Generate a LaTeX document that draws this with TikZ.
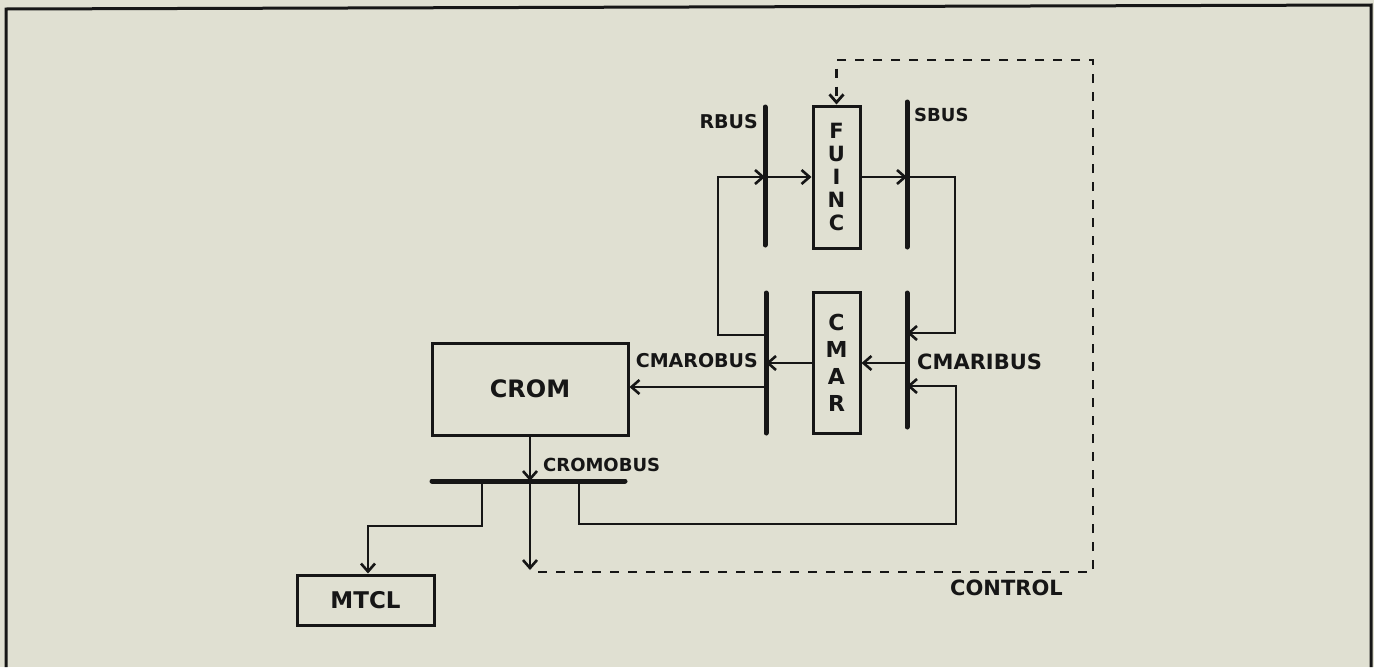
\documentclass[tikz,border=0pt]{standalone}
\usepackage{fontspec}
\setmainfont{DejaVu Sans}
\usetikzlibrary{arrows.meta}
\definecolor{bg}{HTML}{E0E0D2}
\definecolor{ink}{HTML}{161616}
\newcommand{\fsz}[1]{\fontsize{#1}{#1}\selectfont}
\tikzset{
  box/.style={draw=ink, line width=3pt, inner sep=0pt, rectangle},
  bar/.style={draw=ink, line width=5pt, line cap=round},
  wire/.style={draw=ink, line width=2.6pt},
  arr/.style={wire, -{Straight Barb[length=8pt,width=14pt]}},
  ctrl/.style={draw=ink, line width=2.8pt, dash pattern=on 9pt off 9pt, -{Straight Barb[length=8pt,width=14pt]}},
  lbl/.style={text=ink, inner sep=0pt},
}
\begin{document}
\begin{tikzpicture}[x=1pt,y=-1pt]
\useasboundingbox (0,0) rectangle (1374,667);
\fill[bg] (0,0) rectangle (1374,667);
% frame
\draw[ink, line width=3pt] (6,667) -- (6,9) -- (1371,5) -- (1371,667);

% boxes
\node[box, lbl, minimum width=47, minimum height=142, align=center, font={\fsz{21}\bfseries}] (fuinc) at (836.5,177)
  {F\\[2pt]U\\[2pt]I\\[2pt]N\\[2pt]C};
\node[box, lbl, minimum width=47, minimum height=141, align=center, font={\fsz{22}\bfseries}] (cmar) at (836.5,362.5)
  {C\\[5pt]M\\[5pt]A\\[5pt]R};
\node[box, lbl, minimum width=196, minimum height=92, font={\fsz{24}\bfseries}] (crom) at (530,389) {CROM};
\node[box, lbl, minimum width=137, minimum height=50, font={\fsz{23}\bfseries}] (mtcl) at (365.5,600) {MTCL};

% bus bars
\coordinate (rbT) at (765,107); \coordinate (rbB) at (765,245);
\coordinate (sbT) at (907,102); \coordinate (sbB) at (907,247);
\coordinate (coT) at (766,293); \coordinate (coB) at (766,433);
\coordinate (ciT) at (907,293); \coordinate (ciB) at (907,427);
\coordinate (crL) at (432,481); \coordinate (crR) at (625,481);
\draw[bar] (rbT) -- (rbB);
\draw[bar] (sbT) -- (sbB);
\draw[bar] (coT) -- (coB);
\draw[bar] (ciT) -- (ciB);
\draw[bar] (crL) -- (crR);

% labels
\node[lbl, anchor=east, font={\fsz{19}\bfseries}] (rbus) at (758,122) {RBUS};
\node[lbl, anchor=west, font={\fsz{18}\bfseries}] (sbus) at (914,115) {SBUS};
\node[lbl, anchor=east, font={\fsz{19}\bfseries}] (cmarobus) at (758,361) {CMAROBUS};
\node[lbl, anchor=west, font={\fsz{21}\bfseries}] (cmaribus) at (917,362) {CMARIBUS};
\node[lbl, anchor=west, font={\fsz{18}\bfseries}] (cromobus) at (543,465) {CROMOBUS};
\node[lbl, anchor=west, font={\fsz{21}\bfseries}] (control) at (950,588) {CONTROL};

% loop from CMAROBUS to RBUS, through FUINC to SBUS
\coordinate (lpA) at (766,335);
\coordinate (lpB) at (718,335);
\coordinate (lpC) at (718,177);
\draw[arr] (lpA) -- (lpB) -- (lpC) -- (lpC -| rbT);
\draw[arr] (lpC -| rbT) -- (fuinc.west);
\draw[arr] (fuinc.east) -- (fuinc.east -| sbT);
\coordinate (rpA) at (955,177);
\coordinate (rpB) at (955,333);
\draw[arr] (fuinc.east -| sbT) -- (rpA) -- (rpB) -- (rpB -| ciT);

% through CMAR
\coordinate (cmy) at (860,363);
\draw[arr] (cmy -| ciT) -- (cmy -| cmar.east);
\draw[arr] (cmy -| cmar.west) -- (cmy -| coT);
\coordinate (cry) at (700,387);
\draw[arr] (cry -| coT) -- (cry -| crom.east);

% CROM to CROMOBUS
\draw[arr] (crom.south) -- (crom.south |- crL);
% to MTCL
\coordinate (mA) at (482,481);
\coordinate (mB) at (482,526);
\coordinate (mC) at (368,526);
\draw[arr] (mA) -- (mB) -- (mC) -- (mC |- mtcl.north);
% feedback to CMARIBUS
\coordinate (fA) at (579,481);
\coordinate (fB) at (579,524);
\coordinate (fC) at (956,524);
\coordinate (fD) at (956,386);
\draw[arr] (fA) -- (fB) -- (fC) -- (fD) -- (fD -| ciT);
% control
\coordinate (ctTip) at (530,570);
\draw[arr] (crom.south |- crL) -- (ctTip);
\coordinate (ct0) at (538,572);
\coordinate (ct1) at (1093,572);
\coordinate (ct2) at (1093,60);
\coordinate (ct3) at (836.5,60);
\draw[ctrl] (ct0) -- (ct1) -- (ct2) -- (ct3) -- (fuinc.north);
\end{tikzpicture}
\end{document}
